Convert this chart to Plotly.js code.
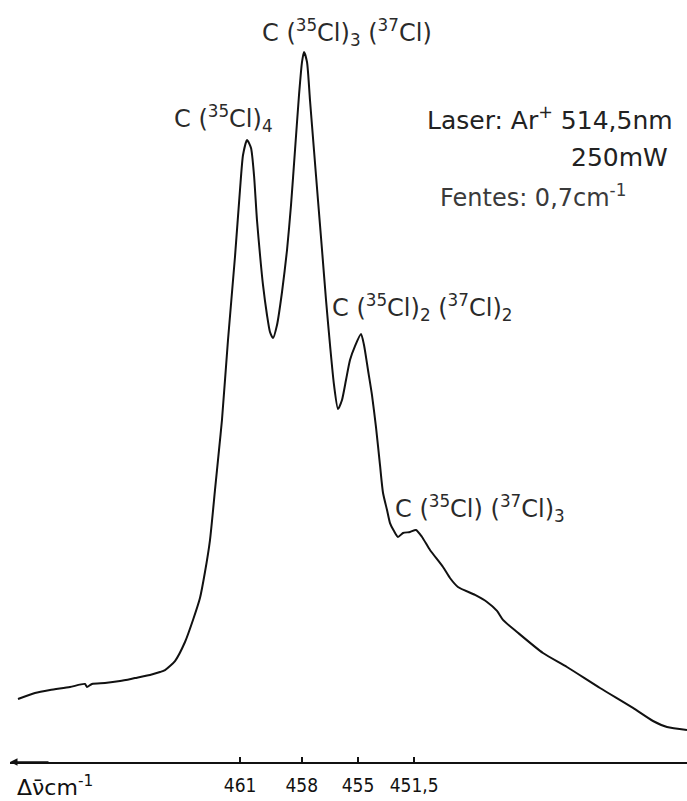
<!DOCTYPE html>
<html>
<head>
<meta charset="utf-8">
<script src="https://cdn.plot.ly/plotly-3.0.1.min.js"></script>
<style>html,body{margin:0;padding:0;background:#fff;}#chart{width:687px;height:801px;}</style>
</head>
<body>
<div id="chart"></div>
<script>
// Recorder chart position (arbitrary scan units, 0-100 across the chart)
const scanPos = [1.18,3.69,5.91,8.86,11.08,11.37,12.11,14.03,16.25,18.46,20.68,22.16,22.90,24.37,25.85,27.03,28.06,28.80,29.54,30.28,30.87,31.31,32.20,33.23,33.97,34.42,35.01,35.60,36.04,36.48,36.93,37.37,37.96,38.40,38.85,39.44,40.18,40.92,41.51,42.10,42.69,43.13,43.43,43.87,44.31,44.90,45.49,46.09,46.68,47.27,47.86,48.45,49.04,49.63,50.22,50.96,51.85,52.29,52.88,53.47,54.06,54.65,55.10,55.69,56.13,56.72,57.31,58.05,59.08,59.97,60.86,62.04,63.96,64.99,66.17,68.69,70.46,71.94,72.82,74.89,78.73,82.27,87.15,92.02,94.98,97.05,100.0];
// Raman intensity (arbitrary units)
const intensity = [8.27,9.06,9.45,9.84,10.24,9.84,10.24,10.37,10.63,11.02,11.42,11.81,12.07,13.25,15.75,18.64,21.52,24.93,29.13,35.70,40.94,44.88,55.38,66.27,75.07,79.66,81.63,80.58,77.03,71.13,66.54,62.60,58.66,56.43,55.64,57.35,61.68,67.19,73.10,80.31,87.53,91.86,93.18,91.86,86.88,80.31,73.75,67.19,60.63,54.72,49.48,46.33,47.51,50.13,52.76,54.59,56.17,54.72,51.44,48.16,43.96,38.98,35.30,33.07,31.36,30.31,29.53,30.05,30.18,30.45,29.53,27.82,25.59,24.15,22.97,21.92,21.00,19.82,18.64,17.06,14.30,12.47,9.71,7.09,5.38,4.59,4.20];
// Marked wavenumbers on the chart
const tickPos = [34.0, 43.1, 51.4, 59.7];
const tickLabels = ["461", "458", "455", "451,5"];
// Peak labels
const peakLabels = ["C (<sup>35</sup>Cl)<sub>4</sub>", "C (<sup>35</sup>Cl)<sub>3</sub> (<sup>37</sup>Cl)", "C (<sup>35</sup>Cl)<sub>2</sub> (<sup>37</sup>Cl)<sub>2</sub>", "C (<sup>35</sup>Cl) (<sup>37</sup>Cl)<sub>3</sub>"];
const peakLabelX = [31.6, 49.8, 47.3, 56.6];
const peakLabelY = [84.5, 95.8, 59.7, 33.3];
const peakAnchor = ["center", "center", "left", "left"];
// Experimental conditions
const condText = ["Laser: Ar<sup>+</sup> 514,5nm", "250mW", "Fentes: 0,7cm<sup>-1</sup>"];
const condX = [98.2, 97.5, 63.2];
const condY = [84.5, 79.3, 74.3];
const condAnchor = ["right", "right", "left"];

const FONT = "DejaVu Sans, Liberation Sans, sans-serif";
const NARROW = "Liberation Sans Narrow, DejaVu Sans Condensed, sans-serif";
const annotations = peakLabels.map((t, i) => ({
  text: t, x: peakLabelX[i], y: peakLabelY[i], xref: "x", yref: "y",
  xanchor: peakAnchor[i], yanchor: "middle", showarrow: false,
  font: {family: FONT, size: 24, color: "#2a2a2a"}
}));
condText.forEach((t, i) => annotations.push({
  text: t, x: condX[i], y: condY[i], xref: "x", yref: "y",
  xanchor: condAnchor[i], yanchor: "middle", showarrow: false,
  font: {family: FONT, size: i === 2 ? 24 : 25, color: i === 2 ? "#3a3a3a" : "#222"}
}));
annotations.push(
  {text: "Δν̄cm<sup>-1</sup>", x: 0.007, y: -0.031, xref: "paper", yref: "paper", xanchor: "left", yanchor: "middle", showarrow: false, font: {family: FONT, size: 22, color: "#111"}},
  {text: "", x: 0, y: 0, xref: "paper", yref: "paper", ax: 40, ay: 0, showarrow: true, arrowhead: 2, arrowsize: 1, arrowwidth: 1.5, arrowcolor: "#111"}
);

const trace = {
  x: scanPos, y: intensity, type: "scatter", mode: "lines",
  line: {color: "#111", width: 2, shape: "spline", smoothing: 0.6},
  hoverinfo: "skip"
};

const layout = {
  width: 687, height: 801,
  margin: {l: 10, r: 0, t: 0, b: 39},
  paper_bgcolor: "#fff", plot_bgcolor: "#fff",
  showlegend: false,
  xaxis: {
    range: [0, 100], showgrid: false, zeroline: false,
    showline: true, linecolor: "#111", linewidth: 1.5,
    tickmode: "array", tickvals: tickPos, ticktext: tickLabels,
    ticks: "inside", ticklen: 5, tickwidth: 1.5, tickcolor: "#111",
    ticklabelstandoff: 6,
    tickfont: {family: NARROW, size: 19, color: "#111"}
  },
  yaxis: {range: [0, 100], visible: false, showgrid: false, zeroline: false},
  annotations: annotations
};

Plotly.newPlot("chart", [trace], layout, {displayModeBar: false, staticPlot: true});
</script>
</body>
</html>
